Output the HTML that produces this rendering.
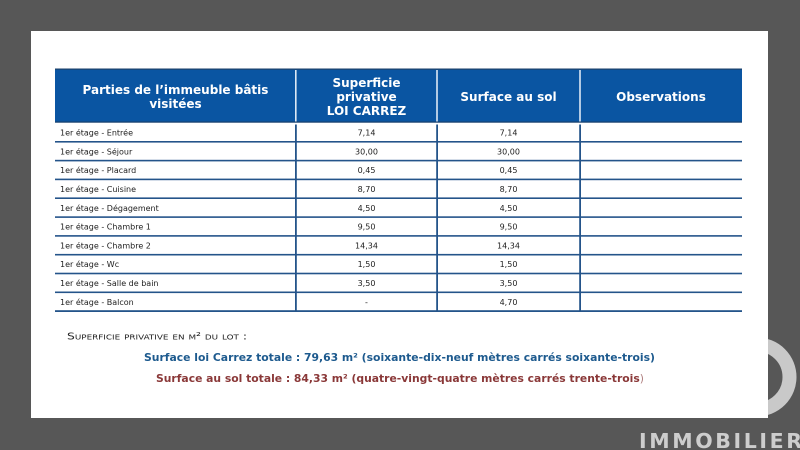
<!DOCTYPE html>
<html>
<head>
<meta charset="utf-8">
<style>
  html,body{margin:0;padding:0;background:#575757;}
  body{width:800px;height:450px;overflow:hidden;}
  svg{display:block;}
</style>
</head>
<body>
<svg width="800" height="450" viewBox="0 0 800 450" xmlns="http://www.w3.org/2000/svg">
  <rect x="0" y="0" width="800" height="450" fill="#575757"/>
  <!-- logo ring -->
  <circle cx="757" cy="377" r="32.5" fill="none" stroke="#c9c9c9" stroke-width="14"/>
  <!-- panel -->
  <rect x="31" y="31" width="737" height="387" fill="#ffffff"/>
  <!-- logo text -->
  <text x="639" y="448" font-family="'DejaVu Sans', 'Liberation Sans', sans-serif" font-weight="bold" font-size="20.5" fill="#cdcdcd" textLength="163" lengthAdjust="spacing">IMMOBILIER</text>

  <!-- header -->
  <rect x="55" y="69" width="687" height="53.5" fill="#0a55a2"/>
  <rect x="55" y="68.5" width="687" height="1.2" fill="#1b3f6a"/>
  <rect x="55" y="121.5" width="687" height="1.2" fill="#173e6b"/>
  <rect x="295" y="70" width="1.6" height="51.5" fill="#dce8f5"/>
  <rect x="436.2" y="70" width="1.6" height="51.5" fill="#dce8f5"/>
  <rect x="579.2" y="70" width="1.6" height="51.5" fill="#dce8f5"/>

  <g font-family="'DejaVu Sans', 'Liberation Sans', sans-serif" font-weight="bold" font-size="12" fill="#ffffff" text-anchor="middle">
    <text x="175.5" y="94">Parties de l’immeuble bâtis</text>
    <text x="175.5" y="108">visitées</text>
    <text x="366.5" y="87">Superficie</text>
    <text x="366.5" y="101">privative</text>
    <text x="366.5" y="115">LOI CARREZ</text>
    <text x="508.5" y="101">Surface au sol</text>
    <text x="661" y="101">Observations</text>
  </g>

  <!-- body grid -->
  <g fill="#24548a">
    <rect x="55" y="141" width="687" height="1.6"/>
    <rect x="55" y="159.8" width="687" height="1.6"/>
    <rect x="55" y="178.6" width="687" height="1.6"/>
    <rect x="55" y="197.4" width="687" height="1.6"/>
    <rect x="55" y="216.3" width="687" height="1.6"/>
    <rect x="55" y="235.1" width="687" height="1.6"/>
    <rect x="55" y="253.9" width="687" height="1.6"/>
    <rect x="55" y="272.7" width="687" height="1.6"/>
    <rect x="55" y="291.5" width="687" height="1.6"/>
    <rect x="55" y="310.2" width="687" height="1.8"/>
    <rect x="295" y="124.5" width="1.8" height="187"/>
    <rect x="436.2" y="124.5" width="1.8" height="187"/>
    <rect x="579.2" y="124.5" width="1.8" height="187"/>
  </g>

  <g font-family="'DejaVu Sans', 'Liberation Sans', sans-serif" font-size="8" fill="#222222">
    <text x="60" y="135.5">1er étage - Entrée</text>
    <text x="60" y="154.3">1er étage - Séjour</text>
    <text x="60" y="173.1">1er étage - Placard</text>
    <text x="60" y="191.9">1er étage - Cuisine</text>
    <text x="60" y="210.8">1er étage - Dégagement</text>
    <text x="60" y="229.6">1er étage - Chambre 1</text>
    <text x="60" y="248.4">1er étage - Chambre 2</text>
    <text x="60" y="267.2">1er étage - Wc</text>
    <text x="60" y="286">1er étage - Salle de bain</text>
    <text x="60" y="304.8">1er étage - Balcon</text>
  </g>
  <g font-family="'DejaVu Sans', 'Liberation Sans', sans-serif" font-size="8" fill="#222222" text-anchor="middle">
    <text x="366.5" y="135.5">7,14</text>
    <text x="366.5" y="154.3">30,00</text>
    <text x="366.5" y="173.1">0,45</text>
    <text x="366.5" y="191.9">8,70</text>
    <text x="366.5" y="210.8">4,50</text>
    <text x="366.5" y="229.6">9,50</text>
    <text x="366.5" y="248.4">14,34</text>
    <text x="366.5" y="267.2">1,50</text>
    <text x="366.5" y="286">3,50</text>
    <text x="366.5" y="304.8">-</text>
    <text x="508.5" y="135.5">7,14</text>
    <text x="508.5" y="154.3">30,00</text>
    <text x="508.5" y="173.1">0,45</text>
    <text x="508.5" y="191.9">8,70</text>
    <text x="508.5" y="210.8">4,50</text>
    <text x="508.5" y="229.6">9,50</text>
    <text x="508.5" y="248.4">14,34</text>
    <text x="508.5" y="267.2">1,50</text>
    <text x="508.5" y="286">3,50</text>
    <text x="508.5" y="304.8">4,70</text>
  </g>

  <!-- summary -->
  <text x="67" y="339.5" font-family="'DejaVu Sans', 'Liberation Sans', sans-serif" font-size="9.8" fill="#222222" font-variant="small-caps" textLength="180" lengthAdjust="spacingAndGlyphs">Superficie privative en m² du lot :</text>
  <text x="144" y="361" font-family="'DejaVu Sans', 'Liberation Sans', sans-serif" font-weight="bold" font-size="11" fill="#1d5a8e" textLength="511" lengthAdjust="spacingAndGlyphs">Surface loi Carrez totale : 79,63 m² (soixante-dix-neuf mètres carrés soixante-trois)</text>
  <text x="156" y="382" font-family="'DejaVu Sans', 'Liberation Sans', sans-serif" font-weight="bold" font-size="11" fill="#8a3838" textLength="488" lengthAdjust="spacingAndGlyphs">Surface au sol totale : 84,33 m² (quatre-vingt-quatre mètres carrés trente-trois<tspan fill="#b08080" font-weight="normal">)</tspan></text>
</svg>
</body>
</html>
